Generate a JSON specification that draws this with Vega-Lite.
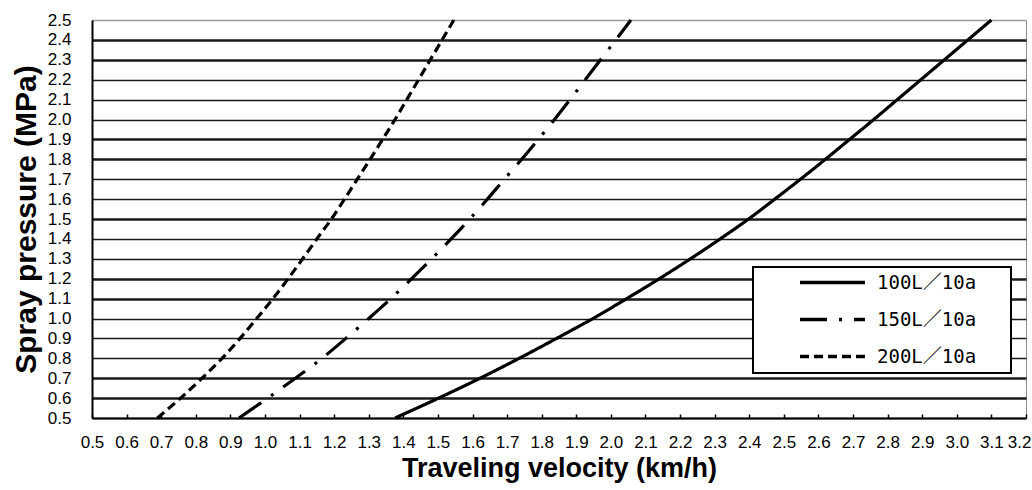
{
  "$schema": "https://vega.github.io/schema/vega-lite/v6.json",
  "width": 934,
  "height": 398,
  "autosize": "none",
  "padding": {"left": 92, "top": 20, "right": 6, "bottom": 72},
  "background": "white",
  "config": {
    "view": {"stroke": "#8c8c8c", "strokeWidth": 1},
    "font": "Liberation Sans",
    "legend": {"strokeWidth": 2}
  },
  "data": {
    "values": [
      {"rate": "100L／10a", "pressure": 0.5, "velocity": 1.376},
      {"rate": "100L／10a", "pressure": 0.6, "velocity": 1.502},
      {"rate": "100L／10a", "pressure": 0.7, "velocity": 1.622},
      {"rate": "100L／10a", "pressure": 0.8, "velocity": 1.735},
      {"rate": "100L／10a", "pressure": 0.9, "velocity": 1.843},
      {"rate": "100L／10a", "pressure": 1.0, "velocity": 1.948},
      {"rate": "100L／10a", "pressure": 1.1, "velocity": 2.046},
      {"rate": "100L／10a", "pressure": 1.2, "velocity": 2.140},
      {"rate": "100L／10a", "pressure": 1.3, "velocity": 2.230},
      {"rate": "100L／10a", "pressure": 1.4, "velocity": 2.316},
      {"rate": "100L／10a", "pressure": 1.5, "velocity": 2.398},
      {"rate": "100L／10a", "pressure": 1.6, "velocity": 2.474},
      {"rate": "100L／10a", "pressure": 1.7, "velocity": 2.548},
      {"rate": "100L／10a", "pressure": 1.8, "velocity": 2.620},
      {"rate": "100L／10a", "pressure": 1.9, "velocity": 2.690},
      {"rate": "100L／10a", "pressure": 2.0, "velocity": 2.760},
      {"rate": "100L／10a", "pressure": 2.1, "velocity": 2.828},
      {"rate": "100L／10a", "pressure": 2.2, "velocity": 2.896},
      {"rate": "100L／10a", "pressure": 2.3, "velocity": 2.964},
      {"rate": "100L／10a", "pressure": 2.4, "velocity": 3.032},
      {"rate": "100L／10a", "pressure": 2.5, "velocity": 3.100},
      {"rate": "150L／10a", "pressure": 0.5, "velocity": 0.925},
      {"rate": "150L／10a", "pressure": 0.6, "velocity": 1.008},
      {"rate": "150L／10a", "pressure": 0.7, "velocity": 1.088},
      {"rate": "150L／10a", "pressure": 0.8, "velocity": 1.165},
      {"rate": "150L／10a", "pressure": 0.9, "velocity": 1.234},
      {"rate": "150L／10a", "pressure": 1.0, "velocity": 1.300},
      {"rate": "150L／10a", "pressure": 1.1, "velocity": 1.364},
      {"rate": "150L／10a", "pressure": 1.2, "velocity": 1.424},
      {"rate": "150L／10a", "pressure": 1.3, "velocity": 1.482},
      {"rate": "150L／10a", "pressure": 1.4, "velocity": 1.538},
      {"rate": "150L／10a", "pressure": 1.5, "velocity": 1.592},
      {"rate": "150L／10a", "pressure": 1.6, "velocity": 1.643},
      {"rate": "150L／10a", "pressure": 1.7, "velocity": 1.692},
      {"rate": "150L／10a", "pressure": 1.8, "velocity": 1.742},
      {"rate": "150L／10a", "pressure": 1.9, "velocity": 1.790},
      {"rate": "150L／10a", "pressure": 2.0, "velocity": 1.837},
      {"rate": "150L／10a", "pressure": 2.1, "velocity": 1.882},
      {"rate": "150L／10a", "pressure": 2.2, "velocity": 1.926},
      {"rate": "150L／10a", "pressure": 2.3, "velocity": 1.970},
      {"rate": "150L／10a", "pressure": 2.4, "velocity": 2.014},
      {"rate": "150L／10a", "pressure": 2.5, "velocity": 2.058},
      {"rate": "200L／10a", "pressure": 0.5, "velocity": 0.689},
      {"rate": "200L／10a", "pressure": 0.6, "velocity": 0.756},
      {"rate": "200L／10a", "pressure": 0.7, "velocity": 0.818},
      {"rate": "200L／10a", "pressure": 0.8, "velocity": 0.876},
      {"rate": "200L／10a", "pressure": 0.9, "velocity": 0.928},
      {"rate": "200L／10a", "pressure": 1.0, "velocity": 0.976},
      {"rate": "200L／10a", "pressure": 1.1, "velocity": 1.023},
      {"rate": "200L／10a", "pressure": 1.2, "velocity": 1.067},
      {"rate": "200L／10a", "pressure": 1.3, "velocity": 1.109},
      {"rate": "200L／10a", "pressure": 1.4, "velocity": 1.150},
      {"rate": "200L／10a", "pressure": 1.5, "velocity": 1.192},
      {"rate": "200L／10a", "pressure": 1.6, "velocity": 1.230},
      {"rate": "200L／10a", "pressure": 1.7, "velocity": 1.267},
      {"rate": "200L／10a", "pressure": 1.8, "velocity": 1.304},
      {"rate": "200L／10a", "pressure": 1.9, "velocity": 1.340},
      {"rate": "200L／10a", "pressure": 2.0, "velocity": 1.376},
      {"rate": "200L／10a", "pressure": 2.1, "velocity": 1.410},
      {"rate": "200L／10a", "pressure": 2.2, "velocity": 1.444},
      {"rate": "200L／10a", "pressure": 2.3, "velocity": 1.478},
      {"rate": "200L／10a", "pressure": 2.4, "velocity": 1.512},
      {"rate": "200L／10a", "pressure": 2.5, "velocity": 1.546}
    ]
  },
  "mark": {"type": "line", "color": "black", "strokeWidth": 3.2, "interpolate": "monotone"},
  "encoding": {
    "x": {
      "field": "velocity",
      "type": "quantitative",
      "title": "Traveling velocity (km/h)",
      "scale": {"domain": [0.5, 3.2], "nice": false, "zero": false},
      "axis": {
        "values": [0.5, 0.6, 0.7, 0.8, 0.9, 1.0, 1.1, 1.2, 1.3, 1.4, 1.5, 1.6, 1.7, 1.8, 1.9, 2.0, 2.1, 2.2, 2.3, 2.4, 2.5, 2.6, 2.7, 2.8, 2.9, 3.0, 3.1, 3.2],
        "format": ".1f",
        "grid": false,
        "labelFont": "Liberation Sans",
        "labelFontSize": 17,
        "labelColor": "black",
        "labelOverlap": false,
        "labelPadding": 20,
        "labelAlign": {"condition": {"test": "datum.value > 3.15", "value": "right"}, "value": "center"},
        "labelOffset": {"condition": {"test": "datum.value > 3.15", "value": 5}, "value": 0},
        "tickSize": -4,
        "tickColor": "black",
        "tickWidth": 1.5,
        "domainColor": "black",
        "domainWidth": 2,
        "titleFont": "Liberation Sans",
        "titleFontWeight": "bold",
        "titleFontSize": 27,
        "titleColor": "black",
        "titlePadding": 5
      }
    },
    "y": {
      "field": "pressure",
      "type": "quantitative",
      "title": "Spray pressure (MPa)",
      "scale": {"domain": [0.5, 2.5], "nice": false, "zero": false},
      "axis": {
        "values": [0.5, 0.6, 0.7, 0.8, 0.9, 1.0, 1.1, 1.2, 1.3, 1.4, 1.5, 1.6, 1.7, 1.8, 1.9, 2.0, 2.1, 2.2, 2.3, 2.4, 2.5],
        "format": ".1f",
        "grid": true,
        "gridColor": {"condition": {"test": "round(datum.value * 10) == 25", "value": "#9a9a9a"}, "value": "#1a1a1a"},
        "gridWidth": {"condition": {"test": "indexof([6, 7, 11, 12, 15, 18, 19, 23, 24], round(datum.value * 10)) >= 0", "value": 2.6}, "value": 1.4},
        "gridOpacity": 1,
        "ticks": false,
        "tickSize": 0,
        "labelFont": "Liberation Sans",
        "labelFontSize": 17,
        "labelColor": "black",
        "labelOverlap": false,
        "labelPadding": 21,
        "domainColor": "black",
        "domainWidth": 2,
        "titleFont": "Liberation Sans",
        "titleFontWeight": "bold",
        "titleFontSize": 30,
        "titleColor": "black",
        "titlePadding": 6
      }
    },
    "strokeDash": {
      "field": "rate",
      "type": "nominal",
      "scale": {
        "domain": ["100L／10a", "150L／10a", "200L／10a"],
        "range": [[1, 0], [27, 12, 3, 12], [9, 5]]
      },
      "legend": {
        "orient": "none",
        "legendX": 661,
        "legendY": 247,
        "title": null,
        "symbolType": "M-5,0L5,0",
        "symbolSize": 169,
        "symbolStrokeWidth": 3.5,
        "symbolStrokeColor": "black",
        "symbolOffset": 64,
        "labelOffset": 35,
        "labelFont": "DejaVu Sans Mono, Noto Sans CJK JP",
        "labelFontSize": 19,
        "labelColor": "black",
        "labelExpr": "datum.label + '\u2800\u2800'",
        "rowPadding": 17,
        "padding": 6,
        "strokeColor": "black",
        "fillColor": "white"
      }
    },
    "order": {"field": "pressure", "type": "quantitative"}
  }
}
